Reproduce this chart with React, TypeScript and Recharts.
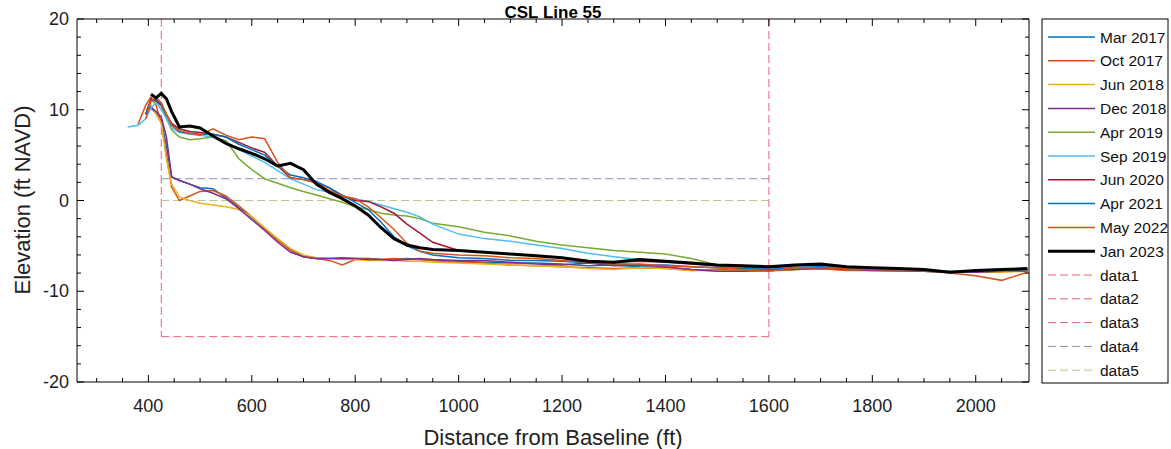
import { LineChart, Line, XAxis, YAxis } from "recharts";

// distance from baseline (ft)
const distance = [
  360, 380, 395, 405, 415, 425, 435, 445, 460, 480,
  500, 525, 550, 575, 600, 625, 650, 675, 700, 725,
  750, 775, 800, 825, 850, 875, 900, 925, 950, 1000,
  1050, 1100, 1150, 1200, 1250, 1300, 1350, 1400, 1450, 1500,
  1550, 1600, 1650, 1700, 1750, 1800, 1850, 1900, 1950, 2000,
  2050, 2100,
];

// elevation (ft NAVD) per survey
const mar2017 = [null, null, 9.6, 10.2, 9.6, 8.8, 6.0, 2.6, 2.2, 1.8, 1.4, 1.3, 0.3, -0.8, -1.9, -3.1, -4.3, -5.4, -6.2, -6.4, -6.4, -6.3, -6.4, -6.4, -6.5, -6.5, -6.4, -6.5, -6.6, -6.7, -6.8, -6.9, -6.9, -7.0, -7.2, -7.1, -7.3, -7.4, -7.6, -7.7, -7.7, -7.6, -7.5, -7.4, -7.6, -7.6, -7.7, -7.8, -7.9, -7.9, -7.8, -7.8];
const oct2017 = [null, 8.4, 10.5, 11.4, 10.5, 8.5, 5.0, 1.5, 0.0, 0.5, 1.0, 1.1, 0.5, -0.6, -1.8, -3.1, -4.4, -5.5, -6.2, -6.4, -6.6, -7.1, -6.5, -6.4, -6.5, -6.4, -6.5, -6.5, -6.6, -6.8, -6.9, -7.1, -7.2, -7.3, -7.4, -7.5, -7.4, -7.5, -7.7, -7.6, -7.7, -7.7, -7.6, -7.5, -7.7, -7.7, -7.8, -7.8, -7.9, -7.9, -7.8, -7.7];
const jun2018 = [null, null, 10.0, 10.5, 9.5, 8.5, 4.5, 1.8, 0.4, 0.0, -0.3, -0.5, -0.7, -1.0, -1.8, -3.0, -4.2, -5.3, -6.0, -6.3, -6.4, -6.5, -6.5, -6.6, -6.6, -6.6, -6.7, -6.7, -6.8, -6.9, -7.0, -7.1, -7.2, -7.3, -7.5, -7.6, -7.4, -7.5, -7.7, -7.7, -7.8, -7.8, -7.6, -7.5, -7.6, -7.7, -7.7, -7.8, -7.9, -7.9, -7.9, -7.8];
const dec2018 = [null, null, 9.5, 10.3, 9.8, 9.2, 7.0, 2.6, 2.2, 1.8, 1.3, 0.8, 0.2, -0.9, -2.1, -3.3, -4.6, -5.7, -6.2, -6.4, -6.4, -6.4, -6.4, -6.5, -6.5, -6.6, -6.5, -6.4, -6.5, -6.6, -6.6, -6.8, -7.0, -7.1, -6.9, -7.2, -7.1, -7.3, -7.6, -7.8, -7.8, -7.7, -7.6, -7.5, -7.6, -7.7, -7.7, -7.8, -7.9, -7.9, -7.8, -7.8];
const apr2019 = [null, null, 9.5, 11.0, 10.8, 10.5, 9.0, 7.8, 7.0, 6.7, 6.8, 7.0, 6.6, 4.6, 3.4, 2.4, 1.9, 1.4, 1.0, 0.6, 0.2, -0.2, -0.7, -1.0, -1.4, -1.6, -1.7, -2.0, -2.5, -2.9, -3.5, -3.9, -4.5, -4.9, -5.2, -5.5, -5.7, -5.9, -6.4, -7.1, -7.4, -7.5, -7.4, -7.3, -7.5, -7.6, -7.6, -7.7, -7.8, -7.8, -7.8, -7.7];
const sep2019 = [8.1, 8.3, 9.0, 10.2, 10.8, 10.0, 9.0, 8.0, 7.5, 7.3, 7.2, 7.0, 6.3, 5.6, 4.9, 4.2, 3.3, 2.4, 1.8, 1.2, 0.9, 0.5, 0.2, -0.1, -0.5, -0.9, -1.3, -1.8, -2.6, -3.7, -4.2, -4.5, -4.9, -5.3, -5.8, -6.2, -6.5, -6.7, -6.9, -7.2, -7.4, -7.5, -7.4, -7.3, -7.5, -7.5, -7.6, -7.7, -7.8, -7.8, -7.7, -7.6];
const jun2020 = [null, null, 9.5, 11.2, 11.0, 10.5, 9.5, 8.5, 7.9, 7.6, 7.5, 7.3, 7.0, 6.4, 5.8, 5.3, 3.8, 2.5, 2.3, 2.0, 1.4, 0.5, 0.0, -0.1, -0.7, -1.4, -2.6, -3.6, -4.6, -5.5, -5.7, -5.9, -6.1, -6.3, -6.6, -6.8, -6.7, -6.8, -7.0, -7.2, -7.3, -7.4, -7.2, -7.1, -7.4, -7.5, -7.5, -7.6, -7.9, -7.8, -7.7, -7.6];
const apr2021 = [null, null, 9.5, 11.0, 11.2, 10.6, 9.4, 8.3, 7.6, 7.4, 7.3, 7.3, 7.0, 6.2, 5.6, 5.0, 3.8, 2.8, 2.5, 2.1, 1.4, 0.6, -0.2, -1.0, -2.4, -4.0, -5.0, -5.6, -6.0, -6.3, -6.4, -6.6, -6.6, -6.7, -6.9, -7.0, -7.1, -7.1, -7.3, -7.4, -7.5, -7.6, -7.4, -7.3, -7.5, -7.5, -7.6, -7.7, -7.9, -7.8, -7.7, -7.6];
const may2022 = [null, null, 9.0, 11.0, 11.3, 10.8, 9.5, 8.3, 7.7, 7.4, 7.2, 7.9, 7.2, 6.7, 7.0, 6.8, 4.2, 2.5, 2.3, 1.9, 1.1, 0.5, 0.2, -0.7, -1.9, -3.2, -4.7, -5.6, -5.8, -6.0, -6.1, -6.3, -6.4, -6.6, -6.8, -7.0, -7.0, -7.2, -7.3, -7.4, -7.6, -7.8, -7.4, -7.4, -7.5, -7.6, -7.6, -7.7, -8.0, -8.3, -8.8, -7.9];
const jan2023 = [null, null, null, 11.7, 11.3, 11.8, 11.2, 9.8, 8.1, 8.2, 8.0, 7.1, 6.3, 5.7, 5.2, 4.6, 3.8, 4.1, 3.4, 1.8, 0.9, 0.2, -0.6, -1.6, -3.0, -4.2, -4.9, -5.2, -5.4, -5.5, -5.7, -5.9, -6.1, -6.3, -6.7, -6.8, -6.5, -6.7, -6.9, -7.1, -7.2, -7.3, -7.1, -7.0, -7.3, -7.4, -7.5, -7.6, -7.9, -7.7, -7.6, -7.5];

// dashed box / levels
const boxDistance = [425, 1600];
const boxElevation = [20, -15];
const data4Level = 2.4;
const data5Level = 0;

const xTicks = [300, 350, 400, 450, 500, 550, 600, 650, 700, 750, 800, 850, 900, 950, 1000, 1050, 1100, 1150, 1200, 1250, 1300, 1350, 1400, 1450, 1500, 1550, 1600, 1650, 1700, 1750, 1800, 1850, 1900, 1950, 2000, 2050];
const yTicks = [-20, -18, -16, -14, -12, -10, -8, -6, -4, -2, 0, 2, 4, 6, 8, 10, 12, 14, 16, 18, 20];

const surveys = [
  { name: "Mar 2017", values: mar2017, color: "#0072BD", width: 1.5 },
  { name: "Oct 2017", values: oct2017, color: "#D95319", width: 1.5 },
  { name: "Jun 2018", values: jun2018, color: "#EDB120", width: 1.5 },
  { name: "Dec 2018", values: dec2018, color: "#7E2F8E", width: 1.5 },
  { name: "Apr 2019", values: apr2019, color: "#77AC30", width: 1.5 },
  { name: "Sep 2019", values: sep2019, color: "#4DBEEE", width: 1.5 },
  { name: "Jun 2020", values: jun2020, color: "#A2142F", width: 1.5 },
  { name: "Apr 2021", values: apr2021, color: "#0072BD", width: 1.5 },
  { name: "May 2022", values: may2022, color: "#D95319", width: 1.5 },
  { name: "Jan 2023", values: jan2023, color: "#000000", width: 3 },
];

const rows = distance.map((d, i) => {
  const row: Record<string, number | null> = { distance: d };
  surveys.forEach((s) => (row[s.name] = s.values[i]));
  return row;
});

const pt = (distance: number, elev: number) => ({ distance, elev });
const refLines = [
  { name: "data1", color: "#F0607A", points: [pt(boxDistance[0], boxElevation[0]), pt(boxDistance[0], boxElevation[1])] },
  { name: "data2", color: "#F0607A", points: [pt(boxDistance[1], boxElevation[0]), pt(boxDistance[1], boxElevation[1])] },
  { name: "data3", color: "#F0607A", points: [pt(boxDistance[0], boxElevation[1]), pt(boxDistance[1], boxElevation[1])] },
  { name: "data4", color: "#8C8CB8", points: [pt(boxDistance[0], data4Level), pt(boxDistance[1], data4Level)] },
  { name: "data5", color: "#B5C98E", points: [pt(boxDistance[0], data5Level), pt(boxDistance[1], data5Level)] },
];

const font = "'Liberation Sans', Arial, sans-serif";

// plot box (MATLAB style): left 77, right 1029, top 19, bottom 382, ticks drawn inward
const XTick = ({ x, y, payload, side }: any) => {
  const v = payload.value;
  const major = v % 200 === 0;
  const len = major ? 7 : 4;
  const dir = side === "bottom" ? -1 : 1;
  return (
    <g>
      <line x1={x} x2={x} y1={y} y2={y + dir * len} stroke="#000" strokeWidth={1} />
      {side === "bottom" && major && (
        <text x={x} y={y + 30} textAnchor="middle" fontSize={18} fontFamily={font} fill="#222">
          {v}
        </text>
      )}
    </g>
  );
};

const YTick = ({ x, y, payload, side }: any) => {
  const v = payload.value;
  const major = v % 10 === 0;
  const len = major ? 7 : 4;
  const dir = side === "left" ? 1 : -1;
  return (
    <g>
      <line x1={x} x2={x + dir * len} y1={y} y2={y} stroke="#000" strokeWidth={1} />
      {side === "left" && major && (
        <text x={x - 8} y={y + 6} textAnchor="end" fontSize={18} fontFamily={font} fill="#222">
          {v}
        </text>
      )}
    </g>
  );
};

const legendItems = [
  ...surveys.map((s) => ({ name: s.name, color: s.color, width: s.width, dash: undefined as string | undefined })),
  ...refLines.map((r) => ({ name: r.name, color: r.color, width: 1, dash: "8 4" })),
];

export default function App() {
  return (
    <div style={{ position: "absolute", left: 0, top: 0, width: 1171, height: 449, background: "#fff" }}>
      <LineChart width={1171} height={449} data={rows} margin={{ top: 18, right: 141, bottom: 66, left: 76 }}>
        <XAxis
          dataKey="distance"
          type="number"
          domain={[262, 2103]}
          ticks={xTicks}
          interval={0}
          allowDataOverflow
          height={1}
          tickSize={0}
          tickMargin={0}
          axisLine={{ stroke: "#000" }}
          tickLine={false}
          tick={(p: any) => <XTick {...p} side="bottom" />}
        />
        <XAxis
          xAxisId="top"
          orientation="top"
          dataKey="distance"
          type="number"
          domain={[262, 2103]}
          ticks={xTicks}
          interval={0}
          allowDataOverflow
          height={1}
          tickSize={0}
          tickMargin={0}
          axisLine={{ stroke: "#000" }}
          tickLine={false}
          tick={(p: any) => <XTick {...p} side="top" />}
        />
        <YAxis
          type="number"
          domain={[-20, 20]}
          ticks={yTicks}
          interval={0}
          allowDataOverflow
          width={1}
          tickSize={0}
          tickMargin={0}
          axisLine={{ stroke: "#000" }}
          tickLine={false}
          tick={(p: any) => <YTick {...p} side="left" />}
        />
        <YAxis
          yAxisId="right"
          orientation="right"
          type="number"
          domain={[-20, 20]}
          ticks={yTicks}
          interval={0}
          allowDataOverflow
          width={1}
          tickSize={0}
          tickMargin={0}
          axisLine={{ stroke: "#000" }}
          tickLine={false}
          tick={(p: any) => <YTick {...p} side="right" />}
        />
        {refLines.map((r) => (
          <Line
            key={r.name}
            data={r.points}
            dataKey="elev"
            name={r.name}
            stroke={r.color}
            strokeWidth={1}
            strokeDasharray="8 4"
            dot={false}
            activeDot={false}
            isAnimationActive={false}
          />
        ))}
        {surveys.map((s) => (
          <Line
            key={s.name}
            dataKey={s.name}
            name={s.name}
            type="linear"
            stroke={s.color}
            strokeWidth={s.width}
            dot={false}
            activeDot={false}
            isAnimationActive={false}
          />
        ))}
        <text x={553} y={17.5} textAnchor="middle" fontSize={17} fontWeight="bold" fontFamily={font} fill="#000">
          CSL Line 55
        </text>
        <text x={553} y={445} textAnchor="middle" fontSize={22} fontFamily={font} fill="#222">
          Distance from Baseline (ft)
        </text>
        <text
          x={30}
          y={200}
          textAnchor="middle"
          fontSize={22}
          fontFamily={font}
          fill="#222"
          transform="rotate(-90, 30, 200)"
        >
          Elevation (ft NAVD)
        </text>
        <g>
          <rect x={1042} y={19} width={126} height={364} fill="#fff" stroke="#000" strokeWidth={1} />
          {legendItems.map((item, i) => {
            const cy = 37 + i * 23.8;
            return (
              <g key={item.name}>
                <line
                  x1={1048}
                  x2={1095}
                  y1={cy}
                  y2={cy}
                  stroke={item.color}
                  strokeWidth={item.width}
                  strokeDasharray={item.dash}
                />
                <text x={1100} y={cy + 5.5} fontSize={15.5} fontFamily={font} fill="#111">
                  {item.name}
                </text>
              </g>
            );
          })}
        </g>
      </LineChart>
    </div>
  );
}
